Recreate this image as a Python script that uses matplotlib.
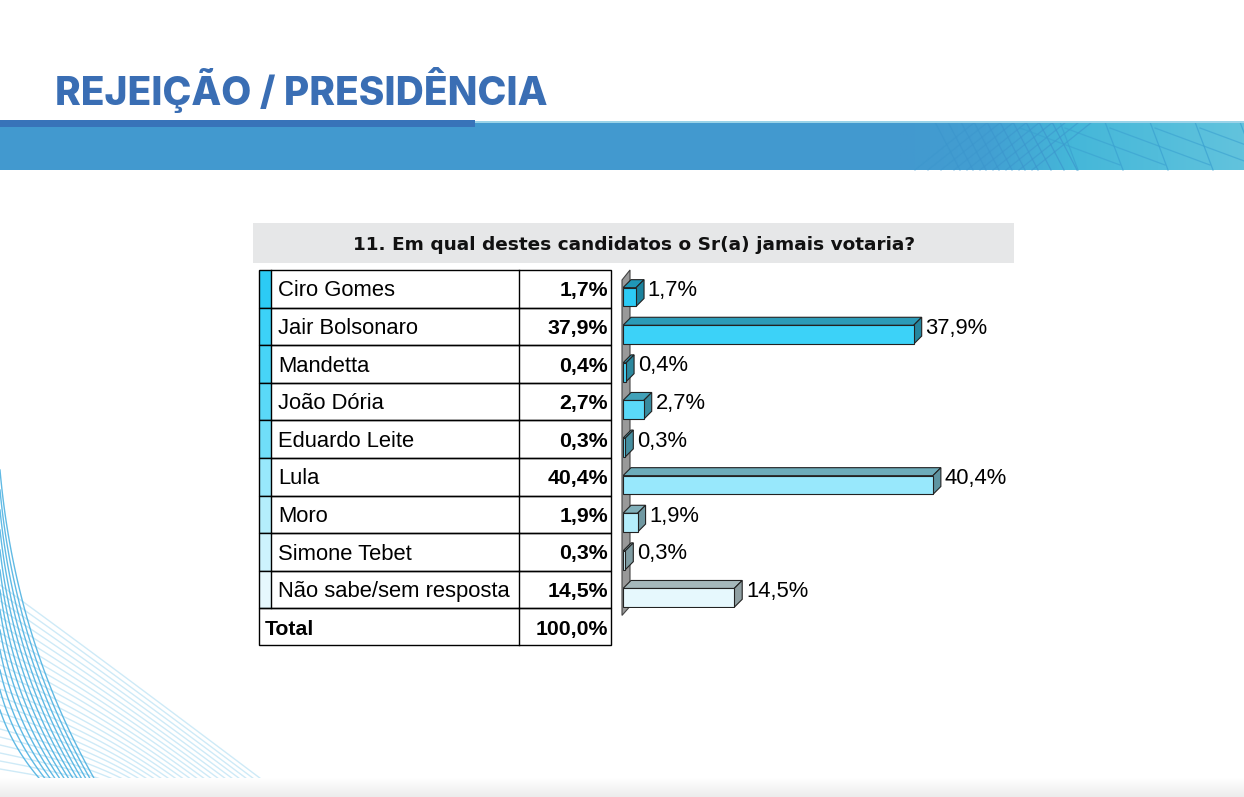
import matplotlib.pyplot as plt
import numpy as np
from matplotlib.patches import Rectangle, Polygon
from matplotlib.colors import LinearSegmentedColormap

# data
candidates = ["Ciro Gomes", "Jair Bolsonaro", "Mandetta", "João Dória", "Eduardo Leite",
              "Lula", "Moro", "Simone Tebet", "Não sabe/sem resposta"]
values = [1.7, 37.9, 0.4, 2.7, 0.3, 40.4, 1.9, 0.3, 14.5]
total_label = "100,0%"
colors = ["#2ccbf5", "#3cd2f8", "#47d4f7", "#5ad9f8", "#70def9",
          "#98e8fc", "#b4eefc", "#cdf3fd", "#e6f8fd"]
title = "REJEIÇÃO / PRESIDÊNCIA"
question = "11. Em qual destes candidatos o Sr(a) jamais votaria?"


def fmt(v):
    return f"{v:.1f}%".replace(".", ",")


def darker(c, f):
    r, g, b = [int(c[i:i + 2], 16) / 255 for i in (1, 3, 5)]
    return (r * f * 0.97, g * f, b * f)


W, H = 1244, 797
fig = plt.figure(figsize=(W / 100, H / 100), dpi=100)
bg = fig.add_axes([0, 0, 1, 1])
bg.axis("off")

# header banner
bg.add_patch(Rectangle((0, 122), W, 48, color="#4299cf", lw=0))
cm = LinearSegmentedColormap.from_list("b", ["#4299cf", "#429fd2", "#45b7d9", "#52bddb", "#62c3dd"])
bg.imshow(np.linspace(0, 1, 300)[None, :], extent=(900, W, 170, 122), cmap=cm, aspect="auto", zorder=1)
for k in range(10):
    x0 = 935 + k * 13
    bg.plot([x0, x0 + 25], [122, 170], color="#3c96cd", lw=0.9, alpha=0.7, zorder=2)
    bg.plot([x0 + 40, x0 - 20], [122, 170], color="#3c96cd", lw=0.9, alpha=0.6, zorder=2)
for k in range(5):
    x0 = 1060 + k * 45
    bg.plot([x0, x0 + 18], [122, 170], color="#3aa0d0", lw=0.9, alpha=0.7, zorder=2)
    bg.plot([x0 - 40, x0 + 60], [128, 165], color="#3aa0d0", lw=0.9, alpha=0.6, zorder=2)
bg.add_patch(Rectangle((475, 121), W - 475, 2, color="#9ad3e8", lw=0, zorder=3))
bg.add_patch(Rectangle((0, 120), 475, 7, color="#3873b9", lw=0, zorder=3))

bg.text(55, 105, title, fontsize=28, fontweight="heavy", family="Inter",
        color="#3a6eb4", va="baseline", ha="left")

# swirl decoration bottom-left
t = np.linspace(0, 1, 100)
for k in range(24):
    p0 = np.array([0, 585 + k * 8])
    p1 = np.array([90 + k * 1, 650 + k * 6])
    p2 = np.array([285 - k * 7, 797])
    pts = ((1 - t) ** 2)[:, None] * p0 + (2 * (1 - t) * t)[:, None] * p1 + (t ** 2)[:, None] * p2
    bg.plot(pts[:, 0], pts[:, 1], color="#a6d9f1", lw=1.0, alpha=0.55)
for k in range(13):
    p0 = np.array([0, 470 + k * 20])
    p1 = np.array([16, 650 + k * 9])
    p2 = np.array([105 - k * 4, 797])
    pts = ((1 - t) ** 2)[:, None] * p0 + (2 * (1 - t) * t)[:, None] * p1 + (t ** 2)[:, None] * p2
    bg.plot(pts[:, 0], pts[:, 1], color="#45aee0", lw=1.0, alpha=0.85)
bg.imshow(np.linspace(0, 1, 50)[:, None], extent=(0, W, 797, 778),
          cmap=LinearSegmentedColormap.from_list("g", ["#ffffff", "#ececec"]), aspect="auto", zorder=5)

# question box
bg.add_patch(Rectangle((253, 223), 761, 40, color="#e6e7e8", lw=0))
bg.text(634, 245, question, fontsize=13.3, fontweight="bold", family="DejaVu Sans",
        ha="center", va="center", color="#111111")

# table
top, rh = 270, 37.6
n = len(candidates)
fs = 15.3
for i, (name, v, c) in enumerate(zip(candidates, values, colors)):
    y = top + i * rh
    bg.add_patch(Rectangle((260, y), 11, rh, color=c, lw=0))
    bg.add_patch(Rectangle((259, y), 352, rh, fill=False, ec="black", lw=1))
    bg.plot([271, 271], [y, y + rh], color="black", lw=1)
    bg.plot([519, 519], [y, y + rh], color="black", lw=1)
    bg.text(278, y + rh / 2 + 2, name, fontsize=15.8, family="Liberation Sans", va="center", ha="left")
    bg.text(608, y + rh / 2 + 2, fmt(v), fontsize=fs, family="Liberation Sans", fontweight="bold",
            va="center", ha="right")
y = top + n * rh
bg.add_patch(Rectangle((259, y), 352, rh - 1, fill=False, ec="black", lw=1))
bg.plot([519, 519], [y, y + rh - 1], color="black", lw=1)
bg.text(265, y + rh / 2 + 2, "Total", fontsize=fs, family="Liberation Sans", fontweight="bold", va="center")
bg.text(608, y + rh / 2 + 2, total_label, fontsize=fs, family="Liberation Sans", fontweight="bold",
        va="center", ha="right")

bg.set_xlim(0, W)
bg.set_ylim(H, 0)

# 3d wall
bot = top + n * rh
bg.add_patch(Polygon([(622, 280), (630, 270), (630, bot - 2), (622, bot + 7)], closed=True,
                     fc="#999999", ec="#444444", lw=0.8))

# bars
px_per = 7.67
xmax = 60
ax = fig.add_axes([623 / W, 1 - bot / H, xmax * px_per / W, n * rh / H])
ax.set_xlim(0, xmax)
ax.set_ylim(n - 0.5, -0.5)
ax.axis("off")
dx = 8 / px_per
dy = 8 / rh
bh = 0.5
ypos = np.arange(n) + 0.22
ax.barh(ypos, values, height=bh, color=colors, edgecolor="#222222", linewidth=0.8, zorder=3)
for i, (yy, v, c) in enumerate(zip(ypos, values, colors)):
    t0 = yy - bh / 2
    ax.add_patch(Polygon([(0, t0), (v, t0), (v + dx, t0 - dy), (dx, t0 - dy)], closed=True,
                         fc=darker(c, 0.74), ec="#222222", lw=0.8, zorder=2))
    ax.add_patch(Polygon([(v, t0), (v + dx, t0 - dy), (v + dx, t0 + bh - dy), (v, t0 + bh)], closed=True,
                         fc=darker(c, 0.64), ec="#222222", lw=0.8, zorder=2))
    ax.text(v + dx + 0.5, i + 0.05, fmt(v), fontsize=15.8, family="Liberation Sans",
            va="center", ha="left")

fig.savefig("out.png", dpi=100)
